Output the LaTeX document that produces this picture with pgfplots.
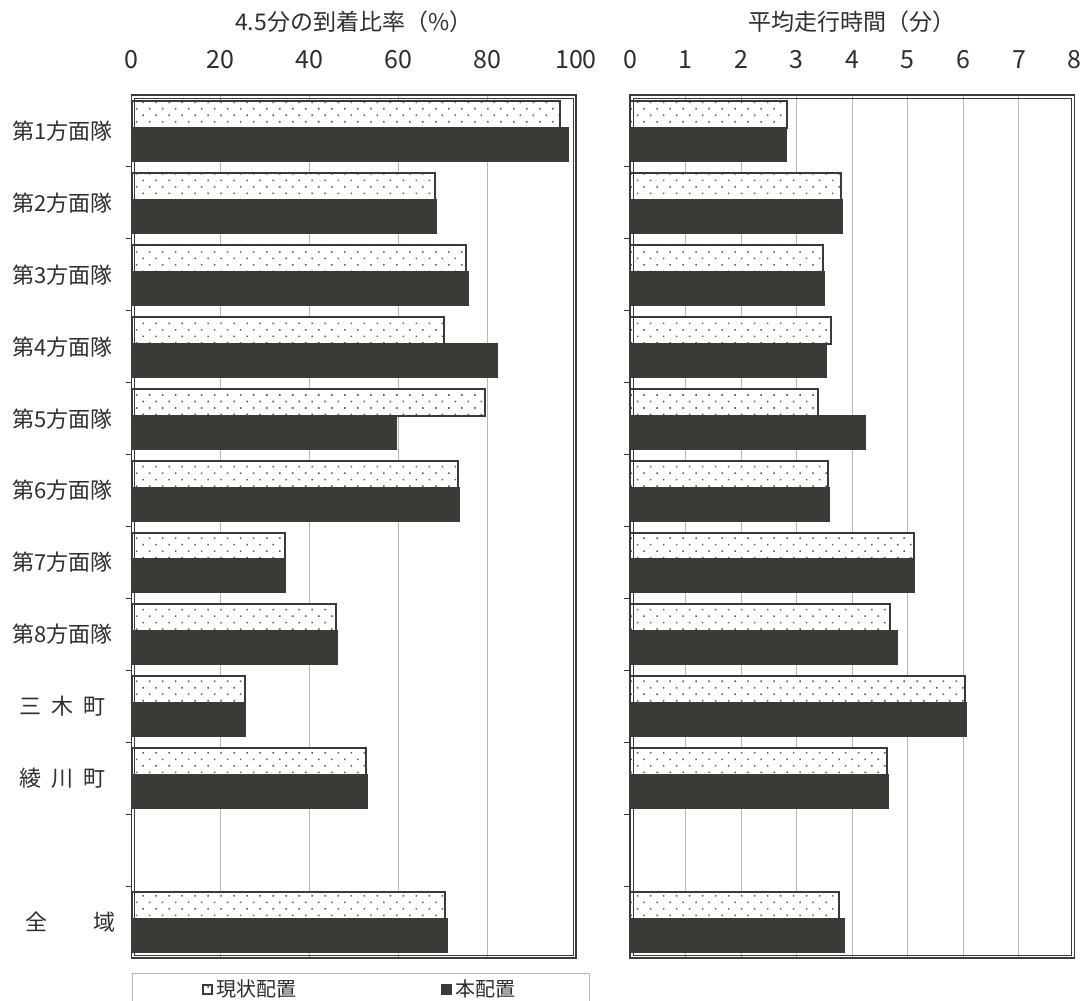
\documentclass[border=0pt]{standalone}
\usepackage{pgfplots}
\usepackage{pgfplotstable}
\pgfplotsset{compat=1.18}
\usepackage{fontspec}
\setmainfont{Noto Sans CJK JP}
\usetikzlibrary{patterns.meta}
\definecolor{barDark}{HTML}{3B3A34}
\definecolor{edge}{HTML}{3A3A3A}
\definecolor{txt}{HTML}{2E2E2E}
\definecolor{gridc}{HTML}{B8B8B8}

\pgfplotstableread{
idx pct0 pct1 time0 time1
0 96.4 98.3 2.82 2.80
1 68.2 68.5 3.80 3.82
2 75.3 75.6 3.47 3.50
3 70.3 82.2 3.61 3.52
4 79.6 59.6 3.39 4.23
5 73.4 73.6 3.57 3.58
6 34.5 34.6 5.11 5.12
7 46.1 46.2 4.68 4.81
8 25.5 25.6 6.03 6.04
9 52.7 52.9 4.63 4.65
11 70.6 70.9 3.76 3.85
}\data

\pgfplotsset{
  panel/.style={
    scale only axis, width=222.25pt, height=431.5pt, anchor=south west,
    xbar, y dir=reverse, ymin=-0.5, ymax=11.5,
    axis line style={draw=edge, line width=0.8pt},
    /pgf/number format/assume math mode=true,
    xtick pos=right, xticklabel pos=right,
    major tick length=0pt,
    xmajorgrids, major grid style={draw=gridc, line width=0.5pt},
    ytick={0,...,9,11}, ytick pos=left,
    extra y ticks={0.5,1.5,...,10.5}, extra y tick labels={},
    extra y tick style={major tick length=3pt, tick style={draw=edge, line width=0.5pt}},
    xticklabel style={font=\fontsize{12.5}{12.5}\selectfont, text=txt, inner sep=0pt, yshift=13pt},
    yticklabel style={font=\fontsize{11}{11}\selectfont, text=txt, inner sep=0pt, text width=56pt, align=center, xshift=-6.25pt},
    clip=false,
  },
  curbar/.style={draw=edge, line width=1pt, fill=white, bar width=0.375, bar shift=-0.229,
    postaction={pattern={Dots[distance=4.6pt, angle=45, radius=0.55pt]}, pattern color=gray!75!black}},
  newbar/.style={draw=edge, line width=1pt, fill=barDark, bar width=0.458, bar shift=0.188},
}

\begin{document}
\begin{tikzpicture}
\useasboundingbox (0,0) rectangle (540pt,500pt);
\begin{axis}[panel, at={(65.75pt,21pt)},
  xmin=0, xmax=100, xtick={0,20,...,100},
  yticklabels={第1方面隊,第2方面隊,第3方面隊,第4方面隊,第5方面隊,第6方面隊,第7方面隊,第8方面隊,三\hspace{0.45em}木\hspace{0.45em}町,綾\hspace{0.45em}川\hspace{0.45em}町,\hspace*{0.7em}全\hspace{2.1em}域},
  legend columns=2,
  legend style={at={(rel axis cs:0,0)}, anchor=north west, yshift=-7.5pt,
    draw=gridc, line width=0.6pt, font=\fontsize{10}{10}\selectfont, text=txt,
    inner xsep=35pt, inner ysep=1pt,
    /tikz/every even column/.append style={column sep=70pt}},
]
\addplot[curbar, legend image code/.code={\draw[edge, line width=1pt, fill=white] (0pt,-2.2pt) rectangle (4.4pt,2.2pt);}] table[x=pct0, y=idx] {\data};
\addplot[newbar, legend image code/.code={\draw[edge, line width=1pt, fill=barDark] (0pt,-2.2pt) rectangle (4.4pt,2.2pt);}] table[x=pct1, y=idx] {\data};
\legend{現状配置,本配置}
\draw[edge, line width=0.4pt] (rel axis cs:0,0) ++(1.5pt,1.5pt) rectangle ([xshift=-1.5pt,yshift=-1.5pt]rel axis cs:1,1);
\node[font=\fontsize{11.5}{11.5}\selectfont, text=txt] at (rel axis cs:0.5,1) [yshift=36.5pt] {4.5分の到着比率（\%）};
\end{axis}
\begin{axis}[panel, at={(315pt,21pt)},
  xmin=0, xmax=8, xtick={0,...,8},
  yticklabels={},
]
\addplot[curbar] table[x=time0, y=idx] {\data};
\addplot[newbar] table[x=time1, y=idx] {\data};
\draw[edge, line width=0.4pt] (rel axis cs:0,0) ++(1.5pt,1.5pt) rectangle ([xshift=-1.5pt,yshift=-1.5pt]rel axis cs:1,1);
\node[font=\fontsize{11.5}{11.5}\selectfont, text=txt] at (rel axis cs:0.5,1) [yshift=36.5pt] {平均走行時間（分）};
\end{axis}
\end{tikzpicture}
\end{document}
